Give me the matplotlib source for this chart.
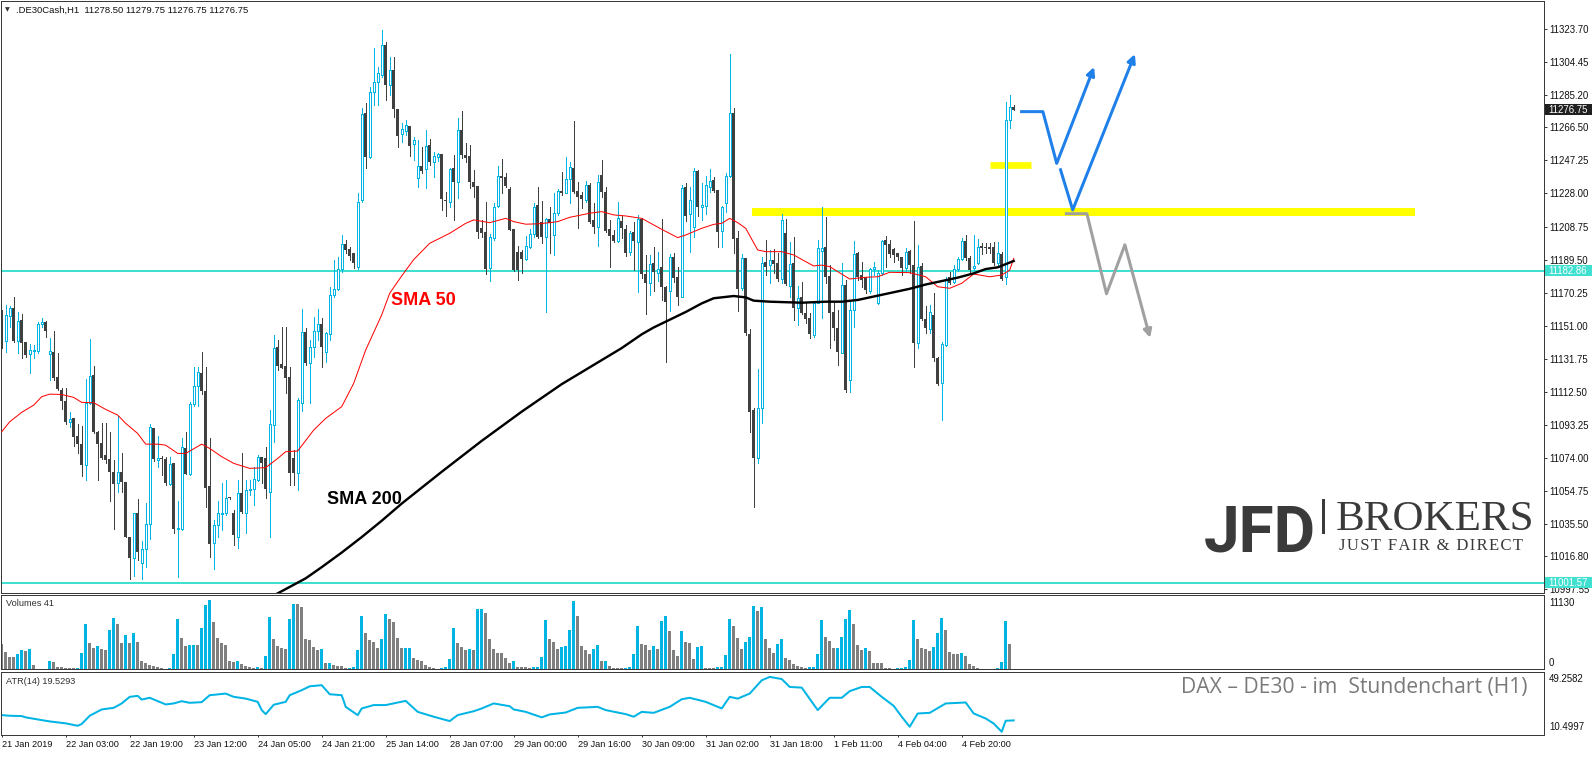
import matplotlib
matplotlib.use("Agg")
import matplotlib.pyplot as plt
from matplotlib.patches import Rectangle
from matplotlib.lines import Line2D
from matplotlib.transforms import blended_transform_factory

# ---------------- data ----------------
opens = [11150.4, 11142.3, 11156.8, 11161.1, 11142.3, 11154.3, 11141.5, 11134.3, 11136.1, 11136.4,
         11151.8, 11153.3, 11134.3, 11135.9, 11121.3, 11113.6, 11107.2, 11095.1, 11097.3, 11086.8,
         11082.1, 11069.9, 11105.8, 11122.3, 11089.3, 11082.9, 11075.7, 11073.4, 11066.0, 11059.2,
         11066.0, 11060.0, 11028.2, 11015.6, 11041.8, 11013.1, 11020.8, 11035.6, 11091.4, 11072.8,
         11073.8, 11073.4, 11059.0, 11071.3, 11032.5, 11032.5, 11079.8, 11064.7, 11105.2, 11115.7,
         11123.3, 11113.0, 11057.7, 11024.3, 11035.0, 11041.3, 11041.8, 11051.1, 11041.8, 11028.3,
         11053.5, 11042.2, 11055.4, 11055.8, 11061.2, 11074.4, 11073.8, 11054.4, 11093.2, 11138.4,
         11128.5, 11127.5, 11120.9, 11073.8, 11065.4, 11106.2, 11147.1, 11129.5, 11138.4, 11147.7,
         11151.8, 11135.9, 11146.0, 11168.9, 11172.1, 11183.8, 11198.3, 11195.8, 11193.1, 11184.9,
         11224.0, 11274.6, 11249.4, 11286.8, 11292.8, 11296.9, 11314.4, 11291.1, 11299.8, 11276.9,
         11262.4, 11264.5, 11267.2, 11256.7, 11237.2, 11244.0, 11242.1, 11256.2, 11246.1, 11249.4,
         11251.0, 11223.8, 11222.9, 11242.6, 11234.9, 11265.0, 11250.4, 11249.8, 11234.9, 11232.4,
         11208.1, 11205.8, 11184.5, 11201.9, 11220.9, 11238.2, 11237.8, 11230.8, 11207.3, 11194.2,
         11194.2, 11189.9, 11197.1, 11204.2, 11221.1, 11211.6, 11202.9, 11213.2, 11203.9, 11216.8,
         11229.5, 11228.5, 11236.2, 11242.6, 11229.5, 11227.1, 11224.2, 11232.8, 11212.6, 11208.3,
         11238.8, 11229.1, 11207.3, 11203.9, 11200.4, 11212.0, 11207.3, 11193.7, 11205.4, 11199.9,
         11213.1, 11180.9, 11175.7, 11187.3, 11181.5, 11185.0, 11173.3, 11171.4, 11191.2, 11179.2,
         11167.9, 11231.9, 11215.8, 11208.7, 11241.1, 11220.3, 11220.9, 11231.9, 11235.8, 11230.0,
         11206.3, 11222.6, 11238.3, 11274.6, 11201.9, 11172.8, 11190.2, 11146.2, 11102.0, 11073.8,
         11102.9, 11187.9, 11186.3, 11189.3, 11187.7, 11178.0, 11205.2, 11174.3, 11187.7, 11161.1,
         11167.9, 11158.6, 11155.3, 11145.6, 11164.4, 11194.7, 11196.6, 11180.1, 11159.2, 11149.5,
         11135.3, 11174.7, 11119.4, 11160.1, 11193.5, 11180.5, 11179.2, 11171.4, 11183.8, 11164.0,
         11181.5, 11200.9, 11198.4, 11195.4, 11193.1, 11191.2, 11184.4, 11194.7, 11186.3, 11140.7,
         11185.8, 11154.7, 11148.9, 11157.2, 11132.0, 11117.5, 11139.8, 11179.5, 11176.6, 11183.8,
         11189.6, 11200.3, 11190.2, 11184.4, 11187.3, 11197.4, 11197.0, 11197.0, 11196.6, 11187.3,
         11192.7, 11179.2, 11270.7, 11278.5]
highs = [11160.1, 11163.0, 11162.4, 11167.5, 11159.2, 11157.8, 11141.5, 11140.3, 11139.6, 11153.3,
         11155.3, 11153.9, 11143.6, 11147.9, 11134.9, 11114.5, 11114.5, 11100.6, 11097.3, 11093.8,
         11092.8, 11120.0, 11143.2, 11127.5, 11089.7, 11094.4, 11094.4, 11089.1, 11072.8, 11098.6,
         11077.1, 11060.0, 11028.2, 11042.2, 11049.9, 11025.5, 11047.8, 11093.8, 11091.4, 11086.8,
         11075.2, 11074.4, 11074.4, 11071.3, 11049.2, 11085.8, 11088.9, 11106.8, 11126.8, 11127.1,
         11135.5, 11126.8, 11085.4, 11037.9, 11049.0, 11059.3, 11061.2, 11051.5, 11043.8, 11061.2,
         11076.8, 11061.2, 11061.2, 11069.0, 11075.8, 11074.8, 11080.6, 11102.0, 11145.6, 11142.7,
         11150.4, 11150.4, 11127.1, 11078.6, 11109.1, 11160.5, 11149.5, 11142.7, 11156.3, 11160.5,
         11155.3, 11147.5, 11173.7, 11189.2, 11190.8, 11203.8, 11200.9, 11197.0, 11193.1, 11228.0,
         11277.5, 11280.4, 11290.1, 11312.4, 11301.7, 11323.1, 11316.3, 11307.6, 11307.6, 11276.9,
         11269.2, 11270.7, 11267.2, 11261.0, 11259.1, 11255.3, 11265.0, 11259.5, 11252.4, 11251.8,
         11251.0, 11229.1, 11242.6, 11250.4, 11271.8, 11276.0, 11257.2, 11256.2, 11241.7, 11232.4,
         11212.6, 11223.2, 11204.2, 11222.3, 11244.0, 11248.1, 11239.7, 11231.6, 11207.3, 11197.4,
         11195.1, 11203.3, 11207.1, 11222.3, 11232.0, 11223.8, 11213.5, 11220.3, 11228.1, 11230.4,
         11240.7, 11249.1, 11246.5, 11270.0, 11234.9, 11229.1, 11235.3, 11233.9, 11222.3, 11238.8,
         11247.5, 11232.0, 11212.6, 11206.8, 11223.2, 11214.9, 11209.6, 11206.3, 11211.6, 11215.4,
         11213.9, 11192.2, 11192.2, 11196.6, 11193.7, 11212.9, 11174.3, 11192.6, 11193.1, 11185.4,
         11232.9, 11233.9, 11231.9, 11242.6, 11241.6, 11233.9, 11238.3, 11242.2, 11237.8, 11230.0,
         11220.9, 11240.1, 11309.2, 11277.5, 11206.1, 11192.6, 11190.2, 11148.9, 11103.3, 11125.6,
         11190.8, 11200.9, 11195.1, 11195.7, 11193.1, 11216.0, 11213.1, 11199.9, 11202.8, 11174.1,
         11176.6, 11164.0, 11158.2, 11165.0, 11200.9, 11219.9, 11214.5, 11186.3, 11164.4, 11160.1,
         11187.7, 11177.6, 11166.0, 11200.3, 11194.1, 11188.3, 11179.5, 11184.4, 11188.3, 11183.4,
         11200.9, 11203.2, 11200.9, 11196.0, 11193.5, 11191.2, 11196.0, 11195.1, 11211.9, 11198.0,
         11187.7, 11162.5, 11163.1, 11169.8, 11133.0, 11141.7, 11179.5, 11182.5, 11186.3, 11191.2,
         11201.9, 11203.8, 11191.6, 11203.8, 11201.3, 11198.9, 11199.3, 11198.9, 11199.5, 11199.9,
         11194.1, 11281.4, 11285.3, 11279.75]
lows = [11137.8, 11135.9, 11150.4, 11141.7, 11135.3, 11132.4, 11132.6, 11123.6, 11132.0, 11135.3,
        11150.0, 11144.6, 11119.4, 11119.4, 11113.6, 11102.5, 11093.8, 11092.2, 11081.0, 11077.1,
        11063.7, 11061.2, 11105.4, 11088.3, 11061.2, 11073.2, 11071.3, 11049.2, 11032.9, 11054.4,
        11054.4, 11027.8, 11003.9, 11005.5, 11014.6, 11003.4, 11010.7, 11027.0, 11072.2, 11068.9,
        11064.3, 11058.3, 11058.3, 11030.2, 11004.9, 11032.1, 11064.7, 11064.3, 11104.2, 11104.4,
        11111.2, 11045.3, 11016.2, 11009.2, 11028.2, 11032.1, 11040.9, 11050.4, 11023.4, 11021.5,
        11041.8, 11030.2, 11052.5, 11046.7, 11060.8, 11059.3, 11050.6, 11028.3, 11083.6, 11125.2,
        11126.2, 11112.0, 11058.3, 11058.3, 11055.4, 11101.5, 11128.1, 11106.2, 11133.0, 11142.7,
        11127.1, 11130.1, 11142.7, 11167.9, 11171.8, 11182.4, 11193.1, 11189.2, 11184.4, 11184.0,
        11223.2, 11242.6, 11248.4, 11279.4, 11279.4, 11295.9, 11282.4, 11285.3, 11272.6, 11255.2,
        11258.1, 11262.0, 11249.8, 11247.4, 11232.0, 11239.7, 11231.4, 11244.6, 11237.8, 11247.1,
        11218.4, 11214.9, 11220.3, 11212.6, 11225.2, 11248.5, 11246.5, 11231.0, 11226.2, 11202.3,
        11202.9, 11181.0, 11177.3, 11201.0, 11220.0, 11228.1, 11232.0, 11206.8, 11182.9, 11177.7,
        11181.5, 11189.3, 11196.1, 11202.9, 11201.9, 11199.0, 11159.2, 11193.2, 11192.2, 11215.5,
        11227.1, 11228.1, 11222.7, 11228.5, 11207.7, 11219.4, 11223.2, 11210.6, 11204.8, 11197.4,
        11226.2, 11205.8, 11185.4, 11200.0, 11200.0, 11201.9, 11191.6, 11192.2, 11183.4, 11170.8,
        11178.6, 11157.8, 11168.9, 11171.4, 11177.2, 11166.0, 11130.1, 11159.8, 11176.7, 11163.1,
        11167.5, 11212.1, 11194.1, 11202.5, 11215.1, 11212.5, 11216.0, 11229.0, 11229.0, 11196.6,
        11196.6, 11217.4, 11237.4, 11193.1, 11159.8, 11171.8, 11145.6, 11089.3, 11045.7, 11070.9,
        11094.2, 11180.5, 11175.7, 11181.5, 11177.2, 11175.7, 11174.7, 11167.9, 11154.3, 11151.4,
        11157.8, 11152.4, 11143.7, 11144.6, 11164.0, 11155.3, 11175.7, 11137.8, 11142.7, 11128.1,
        11134.9, 11112.6, 11112.6, 11150.1, 11177.6, 11173.7, 11169.8, 11169.8, 11180.5, 11163.6,
        11180.5, 11185.4, 11191.2, 11188.3, 11189.3, 11180.5, 11182.5, 11181.5, 11127.2, 11137.8,
        11154.3, 11146.6, 11146.6, 11130.7, 11116.5, 11096.1, 11139.4, 11175.3, 11175.7, 11183.0,
        11189.2, 11189.2, 11181.5, 11183.4, 11186.9, 11192.7, 11193.1, 11193.1, 11186.3, 11186.3,
        11177.6, 11175.3, 11265.9, 11276.75]
closes = [11141.7, 11157.2, 11161.1, 11142.1, 11153.7, 11141.1, 11133.9, 11136.8, 11136.8, 11152.0,
          11153.1, 11148.1, 11136.3, 11120.7, 11114.0, 11107.4, 11095.1, 11096.7, 11086.4, 11082.3,
          11069.9, 11105.8, 11121.7, 11088.9, 11082.1, 11074.2, 11072.8, 11066.0, 11058.9, 11066.0,
          11060.0, 11028.2, 11015.6, 11041.8, 11019.5, 11020.8, 11035.6, 11091.8, 11073.4, 11074.2,
          11073.4, 11059.6, 11070.5, 11032.5, 11033.1, 11080.2, 11064.7, 11105.2, 11115.7, 11123.8,
          11113.0, 11056.7, 11023.9, 11035.0, 11041.8, 11042.2, 11050.6, 11050.8, 11029.2, 11053.5,
          11042.8, 11055.4, 11056.2, 11061.6, 11074.8, 11070.9, 11055.8, 11093.6, 11137.9, 11127.5,
          11126.6, 11120.3, 11065.4, 11065.4, 11107.7, 11147.1, 11129.5, 11138.4, 11147.7, 11151.8,
          11138.4, 11146.5, 11168.9, 11172.3, 11183.8, 11198.3, 11195.1, 11191.6, 11187.3, 11223.2,
          11274.2, 11249.4, 11286.8, 11292.8, 11297.9, 11314.4, 11291.1, 11299.8, 11276.9, 11261.6,
          11265.5, 11267.6, 11255.6, 11259.1, 11244.0, 11241.3, 11255.6, 11246.5, 11250.0, 11250.8,
          11224.6, 11223.4, 11242.1, 11234.9, 11265.0, 11250.4, 11248.9, 11234.9, 11232.0, 11205.8,
          11205.2, 11184.1, 11202.9, 11220.3, 11238.2, 11237.2, 11232.4, 11206.8, 11183.5, 11183.5,
          11189.7, 11197.4, 11204.2, 11220.3, 11202.9, 11202.9, 11213.0, 11211.0, 11216.8, 11229.5,
          11228.1, 11236.2, 11243.2, 11229.1, 11226.2, 11224.6, 11232.8, 11211.6, 11208.3, 11234.5,
          11229.1, 11206.4, 11203.3, 11200.4, 11213.5, 11207.7, 11193.5, 11204.8, 11200.5, 11213.1,
          11180.9, 11176.1, 11187.0, 11182.1, 11184.2, 11173.7, 11165.0, 11191.2, 11179.0, 11167.9,
          11231.4, 11215.1, 11224.2, 11241.1, 11220.3, 11221.3, 11232.9, 11235.2, 11229.6, 11205.8,
          11220.3, 11238.2, 11274.6, 11201.3, 11172.2, 11190.2, 11146.6, 11101.0, 11073.8, 11103.3,
          11187.3, 11185.4, 11189.3, 11187.0, 11178.0, 11212.5, 11175.1, 11187.0, 11161.1, 11166.9,
          11158.6, 11154.7, 11146.2, 11164.4, 11196.1, 11196.1, 11179.2, 11158.6, 11149.5, 11135.9,
          11174.7, 11113.6, 11160.1, 11192.7, 11179.5, 11177.6, 11171.8, 11183.8, 11185.0, 11181.5,
          11200.3, 11198.0, 11192.7, 11192.1, 11191.2, 11184.4, 11194.1, 11186.3, 11140.7, 11185.4,
          11154.7, 11149.5, 11158.8, 11132.0, 11117.1, 11140.2, 11178.0, 11175.7, 11183.8, 11189.6,
          11200.3, 11190.2, 11183.4, 11185.8, 11196.6, 11196.0, 11196.4, 11195.6, 11187.3, 11193.1,
          11178.0, 11270.7, 11278.1, 11276.75]

volumes = [3760, 2600, 1850, 1840, 2250, 2860, 2750, 3010, 600, 100,
           90, 110, 1200, 1050, 300, 290, 200, 150, 140, 250,
           2400, 6760, 3910, 3160, 3460, 3000, 2860, 5860, 7670, 6760,
           3910, 5110, 3910, 5410, 4060, 1200, 950, 650, 450, 300,
           150, 100, 250, 2250, 7520, 4660, 3560, 3660, 3700, 3600,
           6160, 9620, 10370, 7060, 4660, 3910, 3610, 1200, 1150, 1210,
           750, 500, 300, 200, 300, 150, 1950, 7870, 4510, 3510,
           3160, 3060, 7520, 9770, 9760, 9370, 4510, 4360, 3310, 2860,
           3010, 950, 960, 600, 450, 440, 150, 160, 300, 2860,
           8020, 5460, 4360, 4060, 3160, 4510, 8320, 7520, 7060, 4660,
           3160, 3170, 3180, 1650, 1350, 1200, 600, 300, 150, 50,
           150, 300, 1500, 6160, 3910, 3310, 2860, 3010, 2860, 9020,
           9030, 8420, 4510, 3010, 2400, 2380, 1750, 950, 1250, 350,
           300, 290, 150, 300, 310, 1800, 7370, 4510, 4060, 3010,
           3310, 3460, 5860, 10220, 7970, 3460, 2860, 2250, 3010, 3610,
           1200, 1210, 450, 250, 150, 140, 250, 300, 2250, 6460,
           3760, 3610, 2860, 3460, 3010, 7210, 7970, 5710, 2860, 1950,
           5710, 4060, 3910, 1500, 3310, 3460, 150, 140, 130, 300,
           310, 2100, 7520, 6460, 4660, 3010, 4060, 4810, 9470, 8720,
           9320, 4510, 3160, 2400, 3760, 4510, 1650, 1350, 750, 450,
           300, 200, 300, 310, 2250, 7370, 4810, 4210, 3160, 3170,
           4810, 7520, 8870, 6760, 3610, 2860, 3160, 2700, 950, 940,
           930, 150, 140, 50, 150, 160, 300, 1350, 7370, 4510,
           3160, 3010, 2700, 3310, 5410, 7670, 5860, 2550, 2250, 2240,
           2400, 1950, 750, 450, 150, 50, 45, 40, 35, 150,
           1050, 7210, 3760, 41]

atr_x = [0, 2, 5, 6, 10, 12, 16, 19, 20, 22, 25, 28, 30, 32, 34, 35, 37, 41, 43, 45,
         47, 50, 52, 56, 58, 61, 64, 65, 66, 68, 71, 72, 75, 77, 80, 82, 85, 86, 89, 90,
         93, 96, 101, 104, 108, 112, 114, 118, 120, 123, 127, 128, 131, 135, 137, 141, 144, 149, 151, 156,
         158, 160, 163, 167, 170, 172, 176, 180, 182, 184, 187, 190, 192, 195, 197, 200, 204, 207, 210, 212,
         215, 217, 220, 223, 225, 227, 229, 232, 236, 241, 243, 246, 248, 250, 251, 253]
atr_y = [22.8, 22.4, 22.2, 21.4, 19.7, 18.9, 17.7, 16.2, 17.3, 22.4, 26.3, 27.3, 30.0, 34.1, 34.7, 32.4, 33.5, 29.4, 30.0, 31.4,
         30.4, 30.8, 35.1, 36.1, 34.1, 33.0, 31.0, 25.9, 23.4, 29.2, 31.0, 35.1, 38.2, 40.6, 41.3, 35.7, 35.1, 27.9, 22.8, 26.9,
         29.0, 29.0, 31.6, 24.8, 21.8, 19.1, 22.8, 25.2, 26.9, 30.0, 28.3, 26.3, 24.8, 21.4, 23.2, 24.4, 27.3, 27.9, 25.9, 23.4,
         21.8, 24.8, 24.2, 27.9, 32.6, 33.5, 31.0, 26.9, 34.1, 33.0, 36.1, 44.3, 46.4, 45.1, 40.2, 39.8, 25.9, 33.5, 33.5, 37.6,
         40.2, 40.2, 34.1, 28.5, 21.8, 15.6, 23.8, 24.2, 30.0, 30.6, 23.8, 20.7, 17.6, 12.5, 19.3, 19.5293]

sma50_x = [0, 2, 5, 8, 10, 12, 15, 18, 20, 23, 26, 29, 31, 34, 36, 39, 41, 44, 46, 50,
           52, 55, 58, 62, 66, 69, 71, 74, 78, 81, 85, 88, 91, 95, 97, 100, 103, 107, 109, 112,
           116, 118, 122, 126, 128, 131, 134, 137, 139, 142, 145, 147, 150, 153, 156, 160, 165, 169, 171, 175,
           178, 180, 182, 184, 186, 189, 191, 195, 198, 201, 203, 205, 207, 209, 212, 216, 219, 222, 227, 231,
           234, 237, 240, 243, 247, 250, 252, 253]
sma50_y = [11089.3, 11095.1, 11100.6, 11104.8, 11109.7, 11111.2, 11111.0, 11109.3, 11106.4, 11106.2,
           11102.3, 11099.0, 11094.2, 11088.3, 11082.1, 11082.1, 11081.5, 11076.7, 11076.7, 11082.1,
           11079.6, 11074.8, 11070.9, 11068.0, 11068.4, 11073.8, 11077.7, 11078.1, 11090.3, 11097.1,
           11103.9, 11117.5, 11136.9, 11157.3, 11169.9, 11180.0, 11189.5, 11199.0, 11201.3, 11204.8,
           11210.6, 11212.6, 11211.0, 11213.5, 11211.6, 11210.1, 11210.3, 11211.0, 11211.6, 11214.1,
           11215.5, 11216.5, 11217.4, 11215.5, 11214.9, 11213.5, 11207.1, 11202.3, 11203.8, 11207.7,
           11210.0, 11210.6, 11213.5, 11211.0, 11207.7, 11195.1, 11194.1, 11194.1, 11192.2, 11188.3,
           11185.8, 11186.3, 11185.4, 11182.5, 11178.2, 11179.2, 11179.5, 11182.1, 11181.9, 11179.5,
           11173.7, 11172.8, 11175.7, 11181.1, 11179.5, 11180.5, 11183.4, 11190.2]

sma200_x = [68, 72, 76, 80, 85, 90, 95, 100, 110, 120, 130, 140, 150, 155, 160, 163, 167, 171, 175, 178,
            183, 186, 188, 192, 200, 206, 210, 214, 218, 222, 227, 231, 235, 239, 243, 246, 249, 253]
sma200_y = [10994, 10999, 11004, 11010.5, 11019, 11028, 11037.5, 11047.5, 11066, 11084,
            11101, 11117, 11131, 11138, 11146, 11150, 11154.5, 11159, 11164, 11167,
            11168.3, 11167.5, 11165.6, 11165, 11164.4, 11165, 11165, 11166, 11168, 11170,
            11172.5, 11175, 11177, 11179, 11181.5, 11184, 11185, 11188.7]

time_tick_bars = [0, 16, 32, 48, 64, 80, 96, 112, 128, 144, 160, 176, 192, 208, 224, 240]
time_tick_labels = ["21 Jan 2019", "22 Jan 03:00", "22 Jan 19:00", "23 Jan 12:00", "24 Jan 05:00",
                    "24 Jan 21:00", "25 Jan 14:00", "28 Jan 07:00", "29 Jan 00:00", "29 Jan 16:00",
                    "30 Jan 09:00", "31 Jan 02:00", "31 Jan 18:00", "1 Feb 11:00", "4 Feb 04:00",
                    "4 Feb 20:00"]
price_ticks = [11323.70, 11304.45, 11285.20, 11266.50, 11247.25, 11228.00, 11208.75, 11189.50, 11170.25,
               11151.00, 11131.75, 11112.50, 11093.25, 11074.00, 11054.75, 11035.50, 11016.80, 10997.55]
price_tick_labels = ["11323.70", "11304.45", "11285.20", "11266.50", "11247.25", "11228.00", "11208.75",
                     "11189.50", "11170.25", "11151.00", "11131.75", "11112.50", "11093.25", "11074.00",
                     "11054.75", "11035.50", "11016.80", "10997.55"]

support_level = 11182.86
low_level = 11001.57
last_price = 11276.75
yellow_level = 11217.4
yellow_small_level = 11244.4
blue_path1_x = [254.6, 260.3, 263.75, 273.1]
blue_path1_y = [11275.6, 11275.6, 11245.5, 11301.6]
blue_path2_x = [264.6, 267.75, 283.3]
blue_path2_y = [11242.6, 11218.4, 11309.1]
gray_path_x = [265.8, 271.3, 276.2, 280.8, 287.1]
gray_path_y = [11216.2, 11216.2, 11169.6, 11198.1, 11143.9]

# ---------------- figure ----------------
W, H, DPI = 1593, 760, 100
PX = 72.0 / DPI
plt.rcParams['font.family'] = ['Liberation Sans', 'DejaVu Sans']

CYAN = '#00B4E4'
DARK = '#404040'
TURQ = '#40E0D0'
FRAME = '#3a3a3a'

fig = plt.figure(figsize=(W / DPI, H / DPI), dpi=DPI)
fig.patch.set_facecolor('white')


def add_ax(x0, y0, x1, y1):
    return fig.add_axes([x0 / W, 1 - y1 / H, (x1 - x0) / W, (y1 - y0) / H])


ax = add_ax(1, 1, 1543.5, 593.3)
axv = add_ax(1, 595.3, 1543.5, 669.3)
axa = add_ax(1, 672.3, 1543.5, 735)

XMIN, XMAX = -0.175, 385.45
for a in (ax, axv, axa):
    a.set_xlim(XMIN, XMAX)
    for s in a.spines.values():
        s.set_color(FRAME)
        s.set_linewidth(1.0 * PX)
    a.set_facecolor('white')

ax.set_ylim(10995.29, 11339.99)
axv.set_ylim(0, 11130)
axa.set_ylim(10.4997, 49.2582)

# price panel -------------------------------------------------------
n = len(closes)
ax.axhline(support_level, color=TURQ, lw=2 * PX, zorder=1)
ax.axhline(low_level, color=TURQ, lw=2 * PX, zorder=1)
ax.plot([187.6, 353.3], [yellow_level, yellow_level], color='#FFFF00', lw=8 * PX,
        solid_capstyle='butt', zorder=1)
ax.plot([247.1, 257.3], [yellow_small_level, yellow_small_level], color='#FFFF00', lw=6.7 * PX,
        solid_capstyle='butt', zorder=1)

for i in range(n):
    o, h, l, c = opens[i], highs[i], lows[i], closes[i]
    bull = c >= o
    col = CYAN if bull else DARK
    ax.plot([i, i], [l, h], color=col, lw=1 * PX, zorder=2, antialiased=False,
            solid_capstyle='butt')
    lo, hi = min(o, c), max(o, c)
    if bull:
        r = Rectangle((i - 0.25, lo), 0.5, max(hi - lo, 0.3), facecolor='white', edgecolor=CYAN,
                      lw=1 * PX, zorder=3, antialiased=False)
    else:
        r = Rectangle((i - 0.375, lo), 0.75, max(hi - lo, 0.6), facecolor=DARK, edgecolor='none',
                      zorder=3, antialiased=False)
    ax.add_patch(r)

ax.plot(sma50_x, sma50_y, color='#FF0000', lw=1 * PX, zorder=4)
ax.plot(sma200_x, sma200_y, color='black', lw=2.4 * PX, zorder=4)

BLUE = '#1E80E8'
GRAY = '#A0A0A0'
ax.plot(blue_path1_x[:-1], blue_path1_y[:-1], color=BLUE, lw=3 * PX, zorder=5, solid_capstyle='butt')
ax.annotate('', xy=(blue_path1_x[-1], blue_path1_y[-1]), xytext=(blue_path1_x[-2], blue_path1_y[-2]),
            arrowprops=dict(arrowstyle='-|>', color=BLUE, lw=3 * PX, mutation_scale=12,
                            shrinkA=0, shrinkB=0), zorder=5)
ax.annotate('', xy=(blue_path2_x[-1], blue_path2_y[-1]), xytext=(blue_path2_x[-2], blue_path2_y[-2]),
            arrowprops=dict(arrowstyle='-|>', color=BLUE, lw=3 * PX, mutation_scale=12,
                            shrinkA=0, shrinkB=0), zorder=5)
ax.plot(blue_path2_x[:-1], blue_path2_y[:-1], color=BLUE, lw=3 * PX, zorder=5, solid_capstyle='butt')
ax.plot(gray_path_x[:-1], gray_path_y[:-1], color=GRAY, lw=3 * PX, zorder=5, solid_capstyle='butt')
ax.annotate('', xy=(gray_path_x[-1], gray_path_y[-1]), xytext=(gray_path_x[-2], gray_path_y[-2]),
            arrowprops=dict(arrowstyle='-|>', color=GRAY, lw=3 * PX, mutation_scale=12,
                            shrinkA=0, shrinkB=0), zorder=5)

ax.text(97.3, 11165.4, 'SMA 50', color='#FF0000', fontsize=13, fontweight='bold', va='center', ha='left')
ax.text(81.3, 11049.6, 'SMA 200', color='black', fontsize=13, fontweight='bold', va='center', ha='left')

ax.set_xticks([])
ax.yaxis.tick_right()
ax.set_yticks(price_ticks)
ax.set_yticklabels(price_tick_labels)
ax.tick_params(axis='y', direction='out', length=3 * PX, width=1 * PX, color=FRAME,
               labelsize=6.9, pad=1.8, labelcolor='#101010')

tr = blended_transform_factory(fig.transFigure, ax.transData)
half = 5.5 / 1.7183
for val, fc in [(last_price, '#202020'), (support_level, TURQ), (low_level, TURQ)]:
    ax.add_patch(Rectangle((1544.5 / W, val - half), 47.5 / W, 2 * half, transform=tr,
                           facecolor=fc, edgecolor='none', clip_on=False, zorder=10))
    ax.text(1548 / W, val, f'{val:.2f}', transform=tr, color='white', fontsize=6.9,
            va='center', ha='left', clip_on=False, zorder=11)

# volume panel -------------------------------------------------------
vcols = [('#808080' if i == 0 or volumes[i] <= volumes[i - 1] else CYAN) for i in range(len(volumes))]
axv.bar(range(len(volumes)), volumes, width=0.7, color=vcols, linewidth=0, antialiased=False)
axv.set_xticks([])
axv.set_yticks([])

# ATR panel -------------------------------------------------------
axa.plot(atr_x, atr_y, color=CYAN, lw=2.0 * PX)
axa.set_yticks([])
axa.set_xticks(time_tick_bars)
axa.set_xticklabels(time_tick_labels)
axa.tick_params(axis='x', direction='out', length=2.5 * PX, width=1 * PX, color=FRAME,
                labelsize=6.6, pad=2.0, labelcolor='#101010')
for lbl in axa.get_xticklabels():
    lbl.set_ha('left')


def ftext(x, y, s, **kw):
    fig.text(x / W, 1 - y / H, s, **kw)


ftext(1549, 603, '11130', fontsize=6.9, va='center', ha='left', color='#101010')
ftext(1549, 663, '0', fontsize=6.9, va='center', ha='left', color='#101010')
ftext(1549, 679, '49.2582', fontsize=6.9, va='center', ha='left', color='#101010')
ftext(1549, 727.5, '10.4997', fontsize=6.9, va='center', ha='left', color='#101010')

ftext(5, 10, '\u25BC', fontsize=4.5, va='center', ha='left', family='DejaVu Sans', color='#303030')
ftext(16.5, 10, '.DE30Cash,H1  11278.50 11279.75 11276.75 11276.75', fontsize=6.8, va='center',
      ha='left', color='#101010')
ftext(6, 604, 'Volumes 41', fontsize=6.6, va='center', ha='left', color='#303030')
ftext(6, 681.5, 'ATR(14) 19.5293', fontsize=6.6, va='center', ha='left', color='#303030')

ftext(1181, 688, 'DAX \u2013 DE30 - im  Stundenchart (H1)', fontsize=15.2, color='#7a7a7a',
      va='center', ha='left', family=['Open Sans', 'DejaVu Sans'])

# logo
ftext(1204, 552, 'JFD', fontsize=46, fontweight='bold', color='#3a3a3a', va='baseline', ha='left',
      family=['Roboto', 'DejaVu Sans'])
fig.add_artist(Line2D([1323 / W, 1323 / W], [1 - 500 / H, 1 - 532 / H], color='#3a3a3a', lw=3 * PX))
ftext(1336, 530, 'BROKERS', fontsize=31, color='#3a3a3a', va='baseline', ha='left',
      family=['Liberation Serif', 'DejaVu Serif'])
hs = '\u200A'
tagline = hs.join('JUST FAIR & DIRECT')
ftext(1339, 550, tagline, fontsize=12, color='#3a3a3a', va='baseline', ha='left',
      family=['Liberation Serif', 'DejaVu Serif'])

fig.savefig('out.png', dpi=DPI, facecolor='white')
